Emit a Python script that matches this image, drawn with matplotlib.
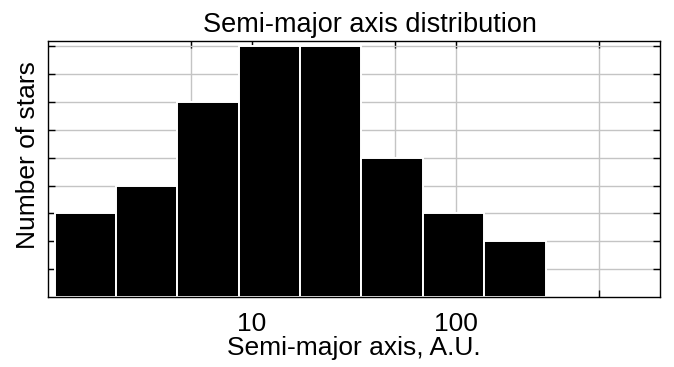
import numpy as np
import matplotlib
matplotlib.use("Agg")
import matplotlib.pyplot as plt

plt.rcParams['font.family'] = ['Liberation Sans', 'DejaVu Sans']

## DATOS

bin_edges = [1.08, 2.15, 4.3, 8.6, 17.2, 34.4, 68.8, 137.5, 275]
n_stars = [3, 4, 7, 9, 9, 5, 3, 2]
xticks = [5, 10, 50, 100, 500]
xtick_labels = ["", "10", "", "100", ""]
yticks = [1, 2, 3, 4, 5, 6, 7, 8, 9]

## FIGURA

fig = plt.figure(figsize=(6.74, 3.67), dpi=100)
ax = fig.add_axes([0.0712, 0.191, 0.908, 0.698])

ax.hist(bin_edges[:-1], bins=bin_edges, weights=n_stars,
        color="black", edgecolor="white", linewidth=1.4, zorder=3)

ax.set_xscale("log")
ax.set_xlim(1, 1000)
ax.set_ylim(0, 9.2)
ax.set_xticks(xticks)
ax.set_xticklabels(xtick_labels)
ax.xaxis.set_minor_locator(matplotlib.ticker.NullLocator())
ax.set_yticks(yticks)
ax.set_yticklabels([])

ax.grid(True, color="#c4c4c4", linewidth=1.0, zorder=0)
ax.set_axisbelow(True)
ax.tick_params(direction="in", top=True, right=True, length=5, width=1,
               labelsize=19)
ax.tick_params(axis="x", pad=11)
for s in ax.spines.values():
    s.set_linewidth(1.0)
    s.set_zorder(5)

ax.set_title("Semi-major axis distribution", fontsize=19.5, pad=6, x=0.526)
ax.set_xlabel("Semi-major axis, A.U.", fontsize=19, labelpad=0)
ax.set_ylabel("Number of stars", fontsize=19)
ax.yaxis.set_label_coords(-0.013, 0.555)

fig.savefig("out.png", dpi=100)
